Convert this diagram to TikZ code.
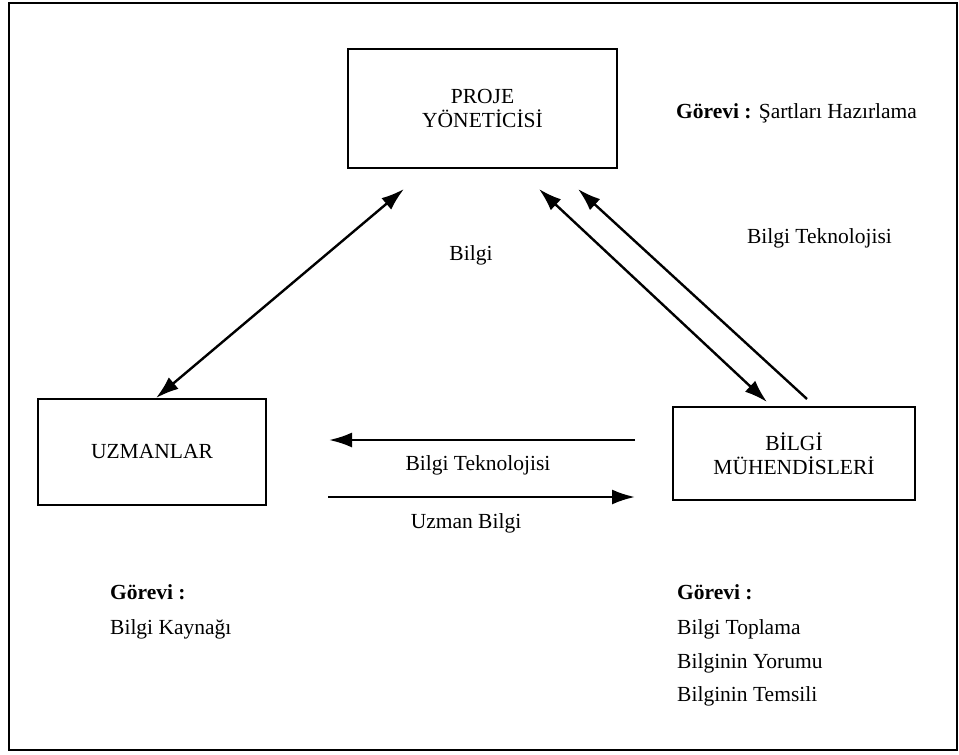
\documentclass[tikz,border=0pt]{standalone}
\usepackage{fontspec}
\setmainfont{Liberation Serif}
\usetikzlibrary{arrows.meta,calc}
\begin{document}
\begin{tikzpicture}[x=1pt,y=-1pt,font=\fontsize{21.5}{24}\selectfont]
\tikzstyle{kutu}=[draw, rectangle, line width=2pt, inner sep=0pt, align=center]
\tikzstyle{ok}=[line width=2.4pt, -{Latex[length=23pt,width=15pt]}]
\tikzstyle{cift ok}=[ok, {Latex[length=23pt,width=15pt]}-{Latex[length=23pt,width=15pt]}]
\tikzstyle{yazi}=[inner sep=0pt, anchor=base west]
\tikzstyle{orta yazi}=[inner sep=0pt, anchor=base]
\useasboundingbox (0,0) rectangle (959,755);
\draw[line width=2.2pt] (9,3) rectangle (957,750);
\node[kutu, minimum width=269pt, minimum height=119pt] (proje) at (482.5,108.5) {PROJE\\YÖNETİCİSİ};
\node[kutu, minimum width=228pt, minimum height=106pt] (uzman) at (152,452) {UZMANLAR};
\node[kutu, minimum width=242pt, minimum height=93pt] (muhendis) at (794,453.5) {BİLGİ\\MÜHENDİSLERİ};
\draw[cift ok] ($(uzman.north west)+(119,0)$) -- ($(proje.south west)+(57,20)$);
\draw[cift ok] ($(proje.south west)+(192,20)$) -- ($(muhendis.north west)+(95,-4)$);
\draw[ok] ($(muhendis.north west)+(135,-7)$) -- ($(proje.south west)+(231,20)$);
\draw[ok] ($(muhendis.west)+(-37,-13.5)$) -- ($(uzman.east)+(62,-12)$);
\draw[ok] ($(uzman.east)+(61,45)$) -- ($(muhendis.west)+(-37,43.5)$);
\node[yazi] (gorevP) at (676,118) {\textbf{Görevi :} Şartları Hazırlama};
\node[orta yazi] (bt1) at (819.5,243) {Bilgi Teknolojisi};
\node[orta yazi] (bilgi) at (471,260) {Bilgi};
\node[orta yazi] (bt2) at (478,470) {Bilgi Teknolojisi};
\node[orta yazi] (uzb) at (466,528) {Uzman Bilgi};
\node[yazi] (gorevU) at (110,599) {\textbf{Görevi :}};
\node[yazi] (kaynak) at (110,634) {Bilgi Kaynağı};
\node[yazi] (gorevM) at (677,599) {\textbf{Görevi :}};
\node[yazi] (toplama) at (677,634) {Bilgi Toplama};
\node[yazi] (yorum) at (677,668.5) {Bilginin Yorumu};
\node[yazi] (temsil) at (677,701) {Bilginin Temsili};
\end{tikzpicture}
\end{document}
